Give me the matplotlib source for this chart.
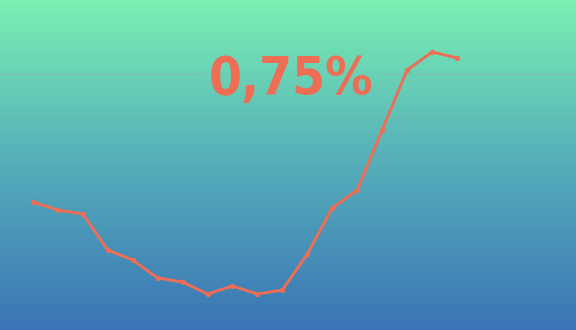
import numpy as np
import matplotlib
matplotlib.use('Agg')
import matplotlib.pyplot as plt
from matplotlib.colors import LinearSegmentedColormap

# monthly values (percent)
months = list(range(18))
values = [0.43, 0.41, 0.40, 0.31, 0.285, 0.24, 0.23, 0.20, 0.22, 0.20, 0.21,
          0.30, 0.415, 0.46, 0.61, 0.76, 0.805, 0.79]
reference_level = 0.75
label_text = '0,75%'

line_color = '#EE6E55'


def main():
    fig = plt.figure(figsize=(5.76, 3.3), dpi=100)
    ax = fig.add_axes([0, 0, 1, 1])

    # vertical gradient background
    cmap = LinearSegmentedColormap.from_list('bg', ['#3A74B5', '#55ADBA', '#7AF0B2'])
    grad = np.linspace(0, 1, 256).reshape(-1, 1)
    ax.imshow(grad, cmap=cmap, aspect='auto', origin='lower',
              extent=[0, 1, 0, 1], transform=ax.transAxes, zorder=0)

    ax.set_xlim(-1.32, 21.77)
    ax.set_ylim(0.11, 0.935)

    # dotted reference line, broken behind the label
    ax.axhline(reference_level, xmin=0, xmax=0.354, color='#93a89c', lw=0.9,
               ls=(0, (1, 1.5)), zorder=1)
    ax.axhline(reference_level, xmin=0.667, xmax=1, color='#93a89c', lw=0.9,
               ls=(0, (1, 1.5)), zorder=1)

    ax.plot(months, values, '-', color=line_color, lw=2.1, marker='o', ms=2.8,
            solid_joinstyle='round', zorder=3)

    ax.text(0.506, 0.758, label_text, transform=ax.transAxes, ha='center', va='center',
            color=line_color, fontsize=38, fontweight='bold', fontstretch='condensed',
            family=['DejaVu Sans'], zorder=4)

    ax.axis('off')
    fig.savefig('out.png', dpi=100)


if __name__ == '__main__':
    main()
